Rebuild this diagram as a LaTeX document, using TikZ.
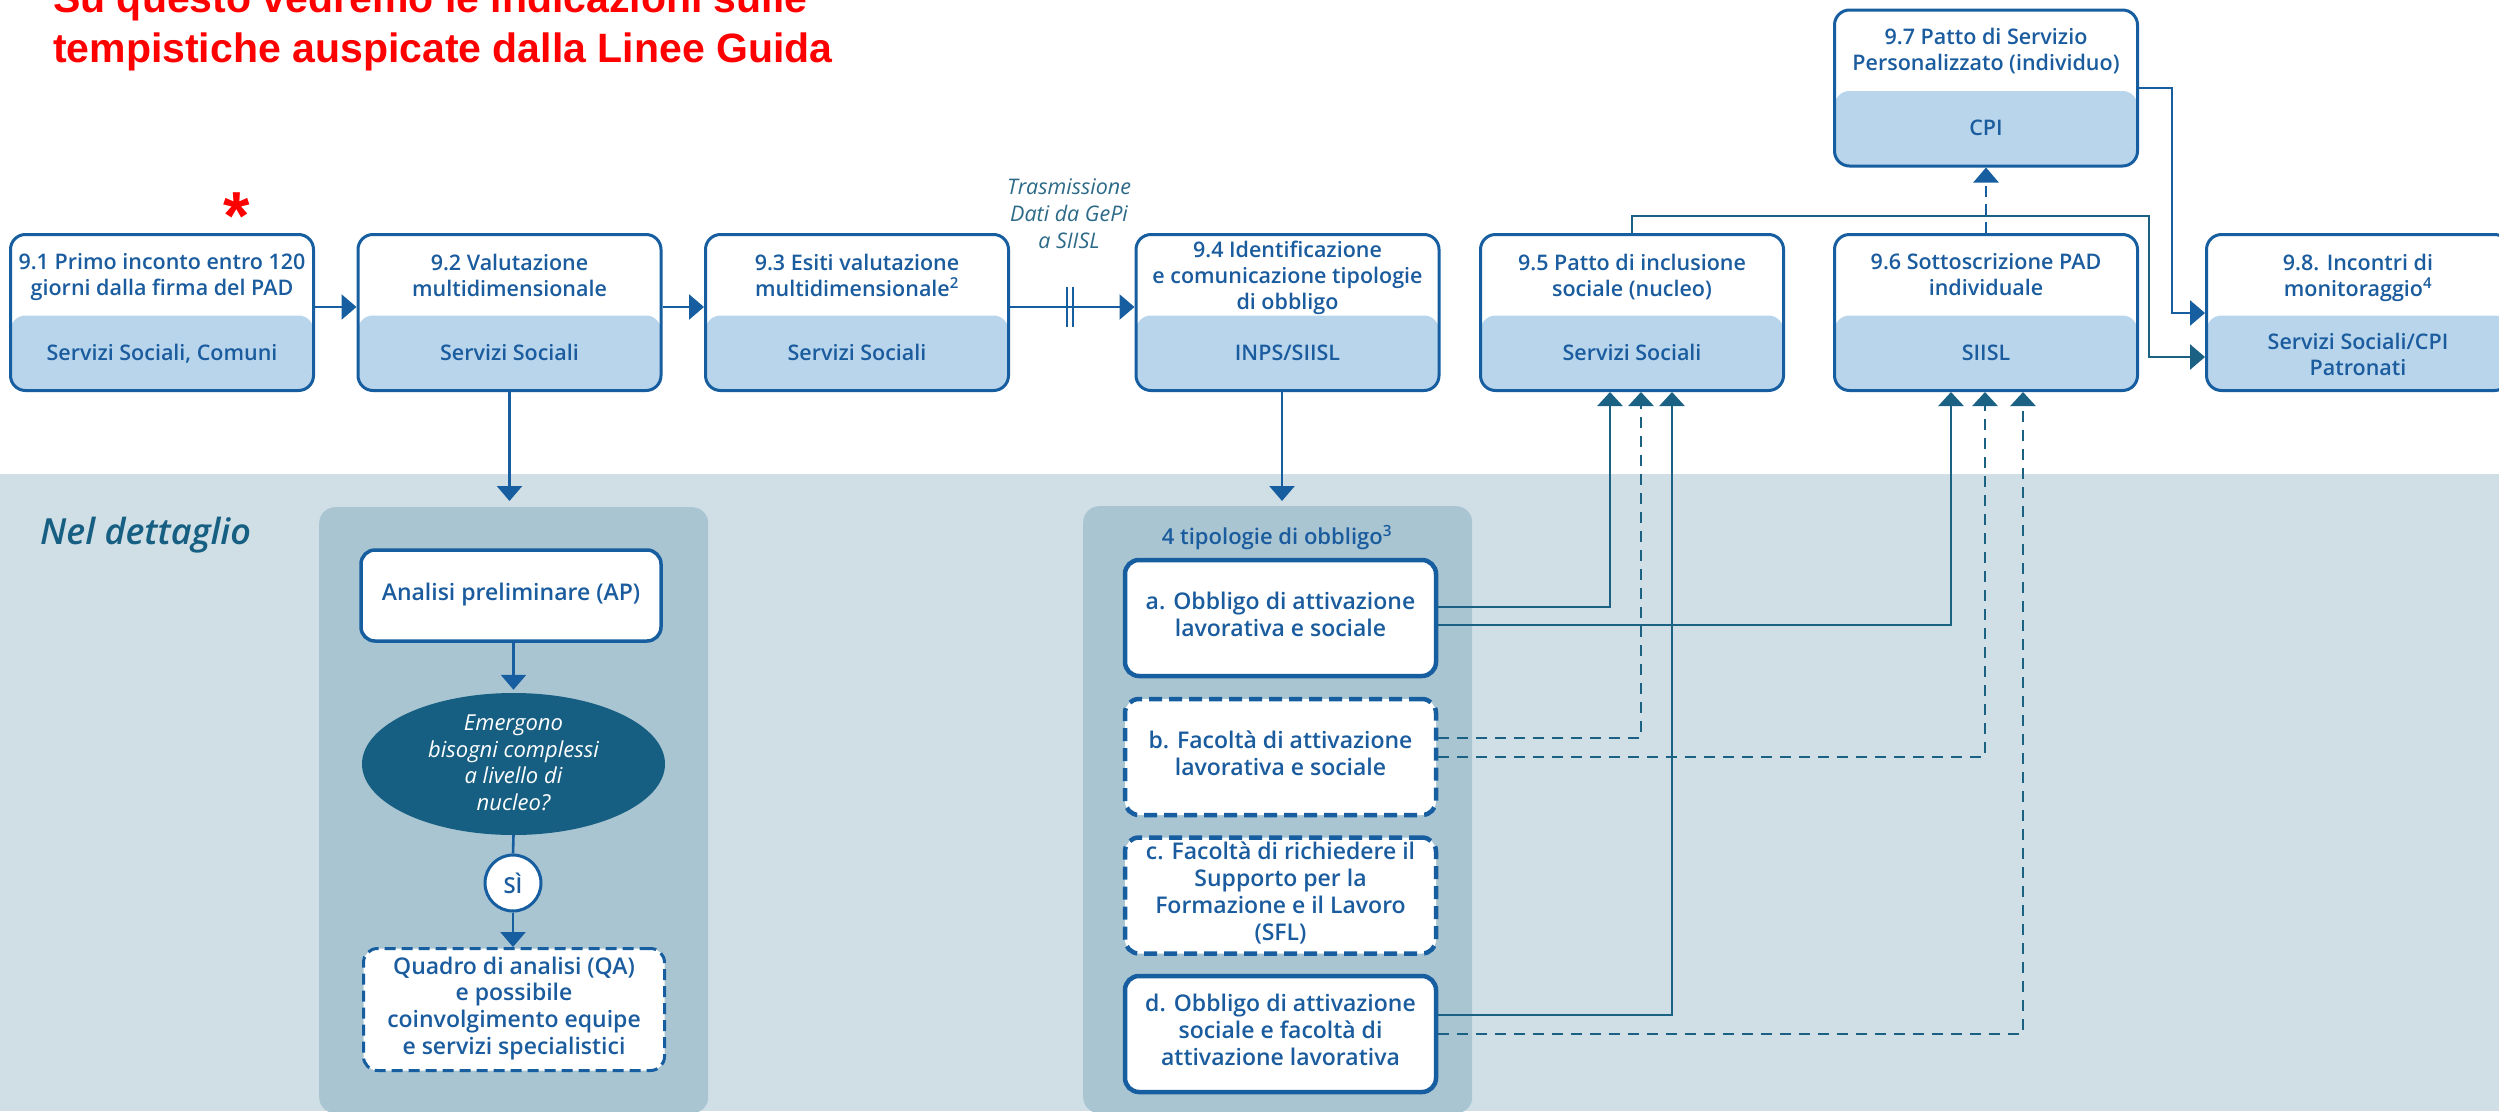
\documentclass[tikz,border=0pt]{standalone}
\usepackage{fontspec}
\usepackage{graphicx}
\usetikzlibrary{arrows.meta,shapes.geometric,calc}
\IfFontExistsTF{Open Sans SemiBold}{\def\osSB{Open Sans SemiBold}}{\IfFontExistsTF{Open Sans Semibold}{\def\osSB{Open Sans Semibold}}{\def\osSB{Open Sans Bold}}}
\IfFontExistsTF{Open Sans SemiBold Italic}{\def\osSBI{Open Sans SemiBold Italic}}{\IfFontExistsTF{Open Sans Semibold Italic}{\def\osSBI{Open Sans Semibold Italic}}{\def\osSBI{Open Sans Bold Italic}}}
\edef\mysetfont{\noexpand\setmainfont{Open Sans}[BoldFont={\osSB},BoldItalicFont={\osSBI}]}
\mysetfont
\newfontfamily\titlefont{Liberation Sans}
\definecolor{bblue}{HTML}{165EA0}
\definecolor{lbf}{HTML}{B9D5EC}
\definecolor{tealc}{HTML}{1A6184}
\definecolor{bgl}{HTML}{D0DFE6}
\definecolor{pnl}{HTML}{A9C5D2}
\definecolor{ellc}{HTML}{175F82}
\definecolor{txtb}{HTML}{1A5C9E}
\definecolor{lblc}{HTML}{2C6A88}
\definecolor{redc}{HTML}{FF0000}
\tikzset{
  tb/.style={draw=bblue, line width=3pt, rounded corners=15pt, fill=white, inner sep=0pt,
    minimum width=303pt, minimum height=156pt,
    path picture={\fill[lbf] ([yshift=-#1]path picture bounding box.north west) rectangle (path picture bounding box.south east);}},
  tt/.style={font=\fontsize{21.5}{26}\selectfont\bfseries, text=txtb, align=center, inner sep=0pt,
    execute at begin node=\strut, execute at end node=\strut},
  lbl/.style={font=\fontsize{21.5}{27}\selectfont\itshape, text=lblc, align=center, inner sep=0pt,
    execute at begin node=\strut, execute at end node=\strut},
  arr/.style={draw=bblue, line width=2.6pt, -{Triangle[width=25pt,length=15pt]}},
  arrt/.style={draw=tealc, line width=2.6pt, -{Triangle[width=25pt,length=15pt]}},
  tarr/.style={draw=tealc, line width=2.6pt, -{Triangle[width=25pt,length=14pt]}},
  tdash/.style={dash pattern=on 11pt off 8pt},
  ln/.style={draw=bblue, line width=2.6pt},
  pnlst/.style={fill=pnl, draw=none, rounded corners=16pt, inner sep=0pt},
  lbox/.style={draw=bblue, fill=white, line width=4.5pt, rounded corners=14pt,
    minimum width=311pt, minimum height=116pt, align=center, text=txtb,
    font=\fontsize{23}{27}\selectfont\bfseries, inner sep=0pt,
    execute at begin node=\strut, execute at end node=\strut},
  dsh/.style={dash pattern=on 13pt off 7pt},
  apbox/.style={draw=bblue, fill=white, line width=3.5pt, rounded corners=14pt,
    minimum width=300pt, minimum height=91pt, align=center, text=txtb,
    font=\fontsize{23}{27}\selectfont\bfseries, inner sep=0pt,
    execute at begin node=\strut, execute at end node=\strut},
  qabox/.style={draw=bblue, fill=white, line width=3pt, rounded corners=14pt,
    dash pattern=on 11pt off 6pt,
    minimum width=301pt, minimum height=122pt, align=center, text=txtb,
    font=\fontsize{23}{26.7}\selectfont\bfseries, inner sep=0pt,
    execute at begin node=\strut, execute at end node=\strut},
  elt/.style={font=\fontsize{22}{26.7}\selectfont\itshape, text=white, align=center, inner sep=0pt,
    execute at begin node=\strut, execute at end node=\strut},
}
\begin{document}
\begin{tikzpicture}[x=1pt,y=-1pt]
\useasboundingbox (0,0) rectangle (2499,1111);
\fill[white] (0,0) rectangle (2499,1111);

% background of detail area
\node[fill=bgl, draw=none, inner sep=0pt, minimum width=2499pt, minimum height=637pt, anchor=north west] (bg) at (0,474) {};
\node[pnlst, minimum width=389pt, minimum height=606pt, anchor=north west] (pl) at (319,507) {};
\node[pnlst, minimum width=389pt, minimum height=607pt, anchor=north west] (pm) at (1083,506) {};

% title
\node[anchor=base west, inner sep=0pt, font=\titlefont\bfseries\fontsize{41}{50}\selectfont, text=redc] (tl1) at (53,12) {Su questo vedremo le indicazioni sulle};
\node[anchor=base west, inner sep=0pt, font=\titlefont\bfseries\fontsize{41}{50}\selectfont, text=redc] (tl2) at (53,62) {tempistiche auspicate dalla Linee Guida};
\node[anchor=north, inner sep=0pt, font=\titlefont\bfseries\fontsize{68}{70}\selectfont, text=redc] (ast) at (237,193) {*};

% top row boxes
\node[tb=81pt] (n91) at (162,312.5) {};
\node[tb=81pt] (n92) at (509.5,312.5) {};
\node[tb=81pt] (n93) at (857,312.5) {};
\node[tb=81pt] (n94) at (1287.5,312.5) {};
\node[tb=81pt] (n95) at (1632,312.5) {};
\node[tb=81pt] (n96) at (1986,312.5) {};
\node[tb=81pt] (n97) at (1986,88) {};
\node[tb=81pt] (n98) at (2358,312.5) {};

\node[tt] (n91t) at (162,278.8) {9.1 Primo inconto entro 120\\giorni dalla firma del PAD};
\node[tt] (n91b) at (162,354.8) {Servizi Sociali, Comuni};
\node[tt] (n92t) at (509.5,278.8) {9.2 Valutazione\\multidimensionale};
\node[tt] (n92b) at (509.5,354.8) {Servizi Sociali};
\node[tt] (n93t) at (857,278.8) {9.3 Esiti valutazione\\multidimensionale\textsuperscript{2}};
\node[tt] (n93b) at (857,354.8) {Servizi Sociali};
\node[tt] (n94t) at (1287.5,278.8) {9.4 Identificazione\\e comunicazione tipologie\\di obbligo};
\node[tt] (n94b) at (1287.5,354.8) {INPS/SIISL};
\node[tt] (n95t) at (1632,278.8) {9.5 Patto di inclusione\\sociale (nucleo)};
\node[tt] (n95b) at (1632,354.8) {Servizi Sociali};
\node[tt] (n96t) at (1986,278.8) {9.6 Sottoscrizione PAD\\individuale};
\node[tt] (n96b) at (1986,354.8) {SIISL};
\node[tt] (n97t) at (1986,52.8) {9.7 Patto di Servizio\\Personalizzato (individuo)};
\node[tt] (n97b) at (1986,129.8) {CPI};
\node[tt] (n98t) at (2358,278.8) {9.8. Incontri di\\monitoraggio\textsuperscript{4}};
\node[tt] (n98b) at (2358,357.8) {Servizi Sociali/CPI\\Patronati};

% top row connectors
\draw[arr] ([yshift=5.5pt]n91.east) -- ([yshift=5.5pt]n92.west);
\draw[arr] ([yshift=5.5pt]n92.east) -- ([yshift=5.5pt]n93.west);
\draw[arr] ([yshift=5.5pt]n93.east) -- coordinate[pos=0.482] (brk) ([yshift=5.5pt]n94.west);
\draw[bblue, line width=2.2pt] ([xshift=-3pt,yshift=20pt]brk) -- ([xshift=-3pt,yshift=-20pt]brk)
  ([xshift=3pt,yshift=20pt]brk) -- ([xshift=3pt,yshift=-20pt]brk);
\node[lbl] (trs) at (1069,217.6) {Trasmissione\\Dati da GePi\\a SIISL};

\coordinate (j1) at (2149,216);
\draw[arrt] (n95.north) |- (j1) |- ([yshift=-44.5pt]n98.west);
\coordinate (j2) at (2172,88);
\draw[arr] (n97.east) -- (j2) |- ([yshift=-0.5pt]n98.west);
\draw[arr, dash pattern=on 11pt off 7pt] (n96.north) -- (n97.south);

% down arrows to detail
\coordinate (p92) at (509.5,501);
\draw[arr] (n92.south) -- (p92);
\coordinate (p94) at (1282,501);
\draw[arr] ([xshift=-5.5pt]n94.south) -- (p94);

% detail title
\node[anchor=base west, inner sep=0pt, font=\fontsize{36}{40}\selectfont\bfseries\itshape, text=ellc] (ndt) at (40,544) {Nel dettaglio};

% left panel
\node[apbox] (ap) at (511,595.5) {Analisi preliminare (AP)};
\node[ellipse, fill=ellc, draw=none, minimum width=303pt, minimum height=142pt, inner sep=0pt] (el) at (513.5,764) {};
\node[elt] (elt) at (513.5,766.6) {Emergono\\bisogni complessi\\a livello di\\nucleo?};
\node[circle, draw=bblue, fill=white, line width=3pt, minimum size=56pt, inner sep=0pt,
  font=\fontsize{22}{27}\selectfont\bfseries, text=txtb] (si) at (513,883) {SÌ};
\node[qabox] (qa) at (514,1009.5) {Quadro di analisi (QA)\\e possibile\\coinvolgimento equipe\\e servizi specialistici};
\draw[arr, shorten >=3pt] (ap.south -| el.north) -- (el.north);
\draw[ln] (el.south) -- (si.north);
\draw[arr] (si.south) -- (si.south |- qa.north);

% middle panel
\node[font=\fontsize{22}{27}\selectfont\bfseries, text=txtb, inner sep=0pt,
  execute at begin node=\strut] (tip) at (1277,538.6) {4 tipologie di obbligo\textsuperscript{3}};
\node[lbox] (oa) at (1280.5,618) {a. Obbligo di attivazione\\lavorativa e sociale};
\node[lbox, dsh] (ob) at (1280.5,757) {b. Facoltà di attivazione\\lavorativa e sociale};
\node[lbox, dsh] (oc) at (1280.5,895.5) {c. Facoltà di richiedere il\\Supporto per la\\Formazione e il Lavoro\\(SFL)};
\node[lbox] (od) at (1280.5,1034) {d. Obbligo di attivazione\\sociale e facoltà di\\attivazione lavorativa};

% connectors from obligations
\draw[tarr] ([yshift=11pt]oa.east) -| ([xshift=-22pt]n95.south);
\draw[tarr] ([yshift=-7pt]oa.east) -| ([xshift=-35pt]n96.south);
\draw[tarr, tdash] ([yshift=19pt]ob.east) -| ([xshift=9pt]n95.south);
\draw[tarr, tdash] (ob.east) -| ([xshift=-1pt]n96.south);
\draw[tarr] ([yshift=19pt]od.east) -| ([xshift=40pt]n95.south);
\draw[tarr, tdash] (od.east) -| ([xshift=37pt]n96.south);
\end{tikzpicture}
\end{document}
